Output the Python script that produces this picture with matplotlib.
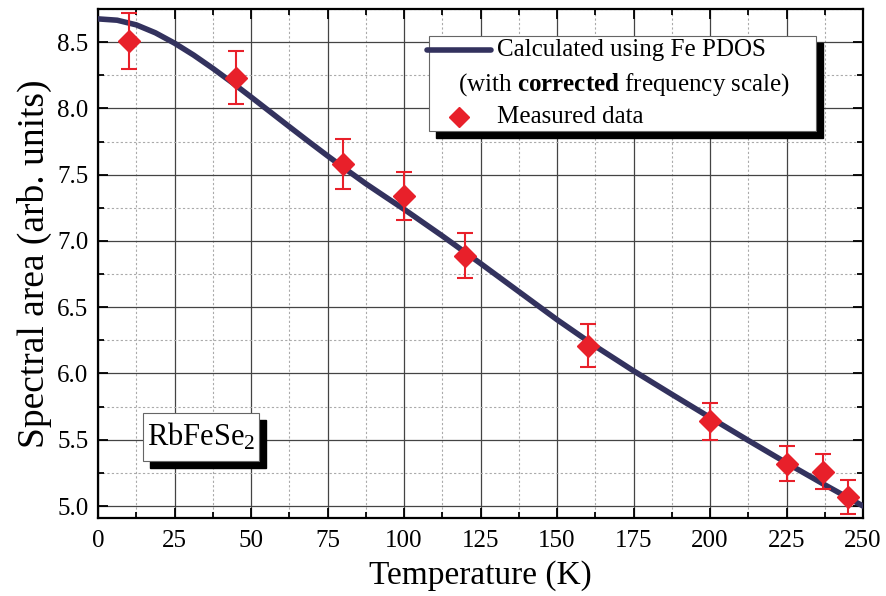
import matplotlib
matplotlib.use("Agg")
import matplotlib.pyplot as plt
from matplotlib.lines import Line2D
from matplotlib.patches import Rectangle
from matplotlib.ticker import MultipleLocator, FormatStrFormatter

plt.rcParams["font.family"] = ["Liberation Serif", "DejaVu Serif"]
plt.rcParams["mathtext.fontset"] = "custom"
plt.rcParams["mathtext.rm"] = "Liberation Serif"
plt.rcParams["mathtext.bf"] = "Liberation Serif:bold"
plt.rcParams["mathtext.it"] = "Liberation Serif:italic"

# calculated curve (Fe PDOS, corrected frequency scale)
calc_T = [0, 6.25, 12.5, 18.75, 25, 31.25, 37.5, 43.75, 50, 56.25, 62.5,
          68.75, 75, 81.25, 87.5, 93.75, 100, 112.5, 125, 137.5, 150, 162.5,
          175, 187.5, 200, 212.5, 225, 237.5, 250]
calc_area = [8.675, 8.665, 8.63, 8.57, 8.492, 8.402, 8.302, 8.196, 8.086,
             7.974, 7.862, 7.751, 7.642, 7.536, 7.432, 7.335, 7.239, 7.038,
             6.830, 6.618, 6.406, 6.206, 6.020, 5.843, 5.668, 5.495, 5.325,
             5.16, 5.0]

# measured data
meas_T = [10, 45, 80, 100, 120, 160, 200, 225, 237, 245]
meas_area = [8.51, 8.23, 7.58, 7.34, 6.89, 6.21, 5.64, 5.32, 5.26, 5.07]
meas_err = [0.21, 0.20, 0.19, 0.18, 0.17, 0.16, 0.14, 0.13, 0.13, 0.13]

line_color = "#33325e"
red = "#e8202a"

fig = plt.figure(figsize=(8.87, 5.96), dpi=100)
ax = fig.add_axes([0.1105, 0.1309, 0.8625, 0.8541])

ax.plot(calc_T, calc_area, color=line_color, lw=4, solid_capstyle="round",
        solid_joinstyle="round", zorder=3)
ax.errorbar(meas_T, meas_area, yerr=meas_err, fmt="D", color=red, ms=11,
            mec=red, ecolor=red, elinewidth=1.5, capsize=6, capthick=1.5,
            zorder=4)

ax.set_xlim(0, 250)
ax.set_ylim(4.91, 8.75)
ax.xaxis.set_major_locator(MultipleLocator(25))
ax.xaxis.set_minor_locator(MultipleLocator(12.5))
ax.yaxis.set_major_locator(MultipleLocator(0.5))
ax.yaxis.set_minor_locator(MultipleLocator(0.25))
ax.yaxis.set_major_formatter(FormatStrFormatter("%.1f"))

ax.grid(which="major", color="#444444", lw=0.9, ls="-", zorder=0)
ax.grid(which="minor", color="#aaaaaa", lw=0.8, ls=(0, (2, 2)), zorder=0)
ax.set_axisbelow(True)

ax.tick_params(which="both", direction="in", top=True, right=True,
               labelsize=18, width=1.3, color="black")
ax.tick_params(which="major", length=7, pad=7)
ax.tick_params(axis="x", which="major", pad=9)
ax.tick_params(which="minor", length=4)
for s in ax.spines.values():
    s.set_linewidth(1.6)

ax.set_xlabel("Temperature (K)", fontsize=24)
ax.set_ylabel("Spectral area (arb. units)", fontsize=27)
ax.xaxis.set_label_coords(0.5, -0.083)
ax.yaxis.set_label_coords(-0.060, 0.5)

# legend box with drop shadow, drawn in axes coordinates
tr = ax.transAxes
dx, dy = 7 / 765, 7 / 509
bx0, by0, bw, bh = 0.4327, 0.760, 0.5059, 0.187
ax.add_patch(Rectangle((bx0 + dx, by0 - dy), bw, bh, transform=tr,
                       facecolor="black", edgecolor="black", zorder=5))
ax.add_patch(Rectangle((bx0, by0), bw, bh, transform=tr, facecolor="white",
                       edgecolor="#666666", lw=0.8, zorder=6))
ax.add_line(Line2D([0.4301, 0.5137], [0.919, 0.919], transform=tr,
                   color=line_color, lw=4, solid_capstyle="round",
                   zorder=7))
ax.add_line(Line2D([0.4719], [0.787], transform=tr, marker="D", ms=10,
                   color=red, zorder=7))
ax.text(0.5216, 0.919, "Calculated using Fe PDOS", transform=tr,
        fontsize=18, va="center", ha="left", zorder=7)
ax.text(0.6870, 0.851, "(with $\\mathbf{corrected}$ frequency scale)",
        transform=tr, fontsize=18, va="center", ha="center", zorder=7)
ax.text(0.5216, 0.787, "Measured data", transform=tr, fontsize=18,
        va="center", ha="left", zorder=7)

# sample label box
sx0, sy0, sw, sh = 0.0588, 0.1120, 0.1516, 0.0943
ax.add_patch(Rectangle((sx0 + dx, sy0 - dy), sw, sh, transform=tr,
                       facecolor="black", edgecolor="black", zorder=5))
ax.add_patch(Rectangle((sx0, sy0), sw, sh, transform=tr, facecolor="white",
                       edgecolor="#666666", lw=0.8, zorder=6))
ax.text(sx0 + sw / 2, sy0 + sh / 2, "RbFeSe$_2$", transform=tr, fontsize=22,
        va="center", ha="center", zorder=7)

fig.savefig("out.png", dpi=100)
